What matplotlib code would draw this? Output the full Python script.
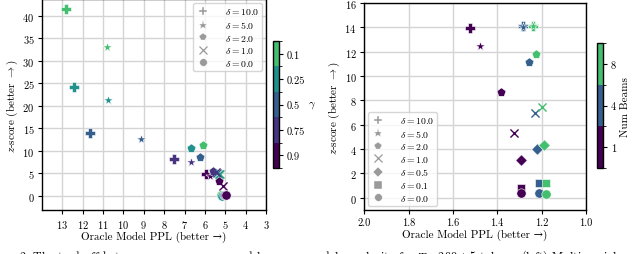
import numpy as np
import matplotlib
matplotlib.use("Agg")
import matplotlib.pyplot as plt
from matplotlib.colors import ListedColormap, BoundaryNorm
from matplotlib.lines import Line2D

plt.rcParams['font.family'] = ['cmr10', 'DejaVu Serif']
plt.rcParams['mathtext.fontset'] = 'cm'
plt.rcParams['axes.formatter.use_mathtext'] = True

# Left panel: gamma sweep
gammas = [0.1, 0.25, 0.5, 0.75, 0.9]
left_deltas = [10.0, 5.0, 2.0, 1.0, 0.0]
left_ppl = {
    10.0: [12.84, 12.43, 11.64, 7.53, 5.94],
    5.0: [10.81, 10.75, 9.16, 6.69, 5.73],
    2.0: [6.10, 6.66, 6.24, 5.60, 5.29],
    1.0: [5.24, 5.30, 5.40, 5.47, 5.11],
    0.0: [5.20, 5.15, 5.08, 5.00, 4.95],
}
left_z = {
    10.0: [41.5, 24.1, 14.0, 8.07, 4.7],
    5.0: [33.0, 21.3, 12.6, 7.5, 4.4],
    2.0: [11.26, 10.67, 8.6, 5.56, 3.3],
    1.0: [4.7, 4.9, 5.1, 5.2, 2.2],
    0.0: [0.1, 0.0, 0.05, 0.1, 0.2],
}

# Right panel: beam sweep
beams = [1, 4, 8]
right_deltas = [10.0, 5.0, 2.0, 1.0, 0.5, 0.1, 0.0]
right_ppl = {
    10.0: [1.524, 1.286, 1.239],
    5.0: [1.476, 1.284, 1.240],
    2.0: [1.383, 1.259, 1.226],
    1.0: [1.325, 1.229, 1.197],
    0.5: [1.292, 1.220, 1.188],
    0.1: [1.295, 1.211, 1.179],
    0.0: [1.294, 1.211, 1.179],
}
right_z = {
    10.0: [13.97, 14.10, 14.13],
    5.0: [12.48, 14.05, 14.10],
    2.0: [8.69, 11.16, 11.82],
    1.0: [5.33, 6.98, 7.45],
    0.5: [3.11, 3.99, 4.32],
    0.1: [0.80, 1.18, 1.21],
    0.0: [0.38, 0.41, 0.33],
}

markers = {10.0: 'P', 5.0: '*', 2.0: 'p', 1.0: 'x', 0.5: 'D', 0.1: 's', 0.0: 'o'}
vir = plt.get_cmap('viridis')
gamma_colors = [vir(0.7), vir(0.5), vir(0.3), vir(0.15), vir(0.0)]
beam_colors = [vir(0.0), vir(0.3), vir(0.7)]

fig = plt.figure(figsize=(6.4, 2.55), dpi=100)
ax1 = fig.add_axes([0.0656, 0.1725, 0.35, 0.8275])
ax2 = fig.add_axes([0.569, 0.1725, 0.3466, 0.8115])
cax1 = fig.add_axes([0.4266, 0.337, 0.0094, 0.498])
cax2 = fig.add_axes([0.933, 0.337, 0.0094, 0.49])

sizes = {'P': 44, '*': 50, 'p': 45, 'D': 34, 's': 38, 'o': 45}


def draw(ax, deltas, xs, ys, colors):
    for d in deltas:
        m = markers[d]
        for x, y, c in zip(xs[d], ys[d], colors):
            if m == 'x':
                ax.scatter(x, y, marker=m, color=c, s=34, linewidths=1.0, zorder=3)
            else:
                ax.scatter(x, y, marker=m, color=c, s=sizes[m], edgecolors='white',
                           linewidths=0.4, zorder=3)


def legend(ax, deltas, loc):
    handles = []
    for d in deltas:
        m = markers[d]
        handles.append(Line2D([], [], ls='none', marker=m, color='#9a9a9a',
                              markersize=5.5 if m != '*' else 6.5,
                              markeredgecolor='white' if m != 'x' else '#9a9a9a',
                              markeredgewidth=0.3 if m != 'x' else 0.9,
                              label=r'$\delta = %.1f$' % d))
    ax.legend(handles=handles, loc=loc, fontsize=7, handletextpad=1.6,
              handlelength=1.3, borderpad=0.35, labelspacing=0.27,
              borderaxespad=0.4)


draw(ax1, left_deltas, left_ppl, left_z, gamma_colors)
draw(ax2, right_deltas, right_ppl, right_z, beam_colors)

ax1.set_xlim(14, 3)
ax1.set_ylim(-3.2, 43.7)
ax1.set_xticks(range(13, 2, -1))
ax1.set_yticks(range(0, 41, 5))
ax2.set_xlim(2.0, 1.0)
ax2.set_ylim(-1, 16)
ax2.set_xticks([2.0, 1.8, 1.6, 1.4, 1.2, 1.0])
ax2.set_xticklabels(['2.0', '1.8', '1.6', '1.4', '1.2', '1.0'])
ax2.set_yticks(range(0, 17, 2))

for ax in (ax1, ax2):
    ax.grid(True, color='#d4d4d4', lw=1.0, zorder=0)
    ax.set_axisbelow(True)
    ax.tick_params(labelsize=7.5, length=3, width=0.8, pad=2.5)
    ax.set_xlabel('Oracle Model PPL (better \u2192)', fontsize=8, labelpad=1)
    ax.set_ylabel(r'$z$-score (better $\rightarrow$)', fontsize=8, labelpad=2)
    for s in ax.spines.values():
        s.set_linewidth(1.0)

legend(ax1, left_deltas, 'upper right')
legend(ax2, right_deltas, 'lower left')

# colorbars
cmap1 = ListedColormap(gamma_colors[::-1])
norm1 = BoundaryNorm(np.arange(6), 5)
cb1 = fig.colorbar(plt.cm.ScalarMappable(norm=norm1, cmap=cmap1), cax=cax1,
                   ticks=np.arange(5) + 0.5)
cb1.set_ticklabels([str(g) for g in gammas[::-1]])
cb1.ax.set_ylabel(r'$\gamma$', rotation=0, fontsize=8, labelpad=5, va='center')

cmap2 = ListedColormap(beam_colors)
norm2 = BoundaryNorm(np.arange(4), 3)
cb2 = fig.colorbar(plt.cm.ScalarMappable(norm=norm2, cmap=cmap2), cax=cax2,
                   ticks=np.arange(3) + 0.5)
cb2.set_ticklabels([str(b) for b in beams])
cb2.set_label('Num Beams', fontsize=8, labelpad=3)

for cb in (cb1, cb2):
    cb.ax.tick_params(labelsize=7.5, length=3, width=0.8, pad=2.5)
    cb.outline.set_linewidth(1.0)

fig.text(-0.03, 0.028,
         r'Figure 2: The tradeoff between average $z$-score and language model perplexity '
         r'for $T = 200 \pm 5$ tokens. (left) Multinomial sampling',
         fontsize=8.7, va='top', ha='left')

fig.savefig('out.png', dpi=100)
